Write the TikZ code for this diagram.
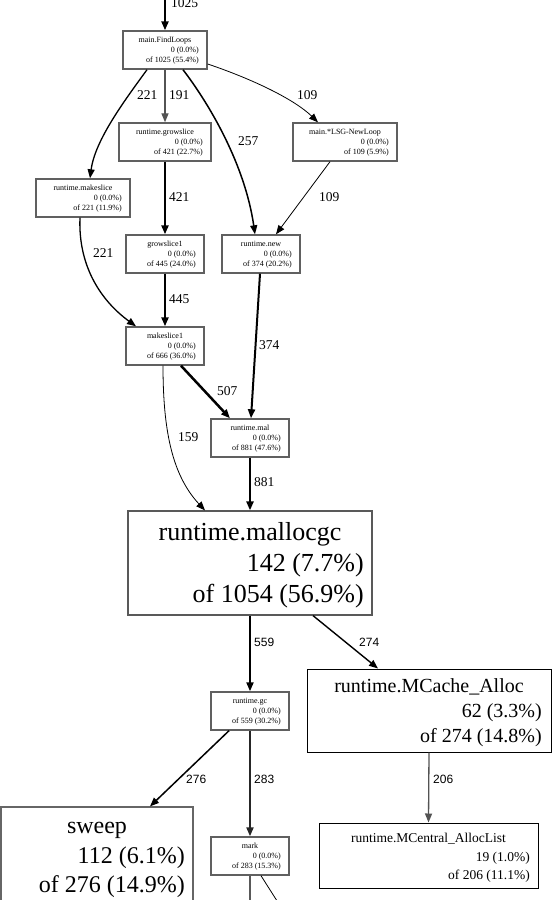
\documentclass[tikz,border=0pt]{standalone}
\usepackage{fontspec}
\setmainfont{Liberation Serif}
\newfontfamily\lsans{Liberation Sans}
\usetikzlibrary{arrows.meta,calc}
\tikzset{
  sbox/.style={draw=gray!75!black, line width=1.4pt, inner sep=0pt, minimum height=38pt},
  stxt/.style={inner sep=0pt, font=\fontsize{8}{10}\selectfont},
  bbox/.style={draw=black, line width=1pt, inner sep=0pt},
  e/.style={draw=black, -{Triangle[length=9pt,width=7pt]}},
  elab/.style={anchor=west, inner sep=0pt, font=\fontsize{13.5}{16}\selectfont},
  elabs/.style={anchor=west, inner sep=0pt, font=\lsans\fontsize{12}{14}\selectfont}
}
\newcommand\gvsmall[7]{%
  \node[sbox, minimum width=#4pt] (#1) at (#2,#3+19) {};
  \node[stxt, anchor=base] (#1t) at (#2,#3+11) {#5};
  \node[stxt, anchor=base east] (#1a) at (#2+#4/2-8,#3+21) {#6};
  \node[stxt, anchor=base east] (#1b) at (#2+#4/2-8,#3+31) {#7};
}
\begin{document}
\begin{tikzpicture}[x=1pt,y=-1pt]
\useasboundingbox (0,0) rectangle (557,900);
\clip (0,0) rectangle (557,900);
\fill[white] (0,0) rectangle (557,900);

% small boxes
\gvsmall{findloops}{165}{31}{84}{main.FindLoops}{0 (0.0\%)}{of 1025 (55.4\%)}
\gvsmall{growslice}{165}{123}{92}{runtime.growslice}{0 (0.0\%)}{of 421 (22.7\%)}
\gvsmall{lsg}{345}{123}{104}{main.*LSG-NewLoop}{0 (0.0\%)}{of 109 (5.9\%)}
\gvsmall{makeslice}{83}{179}{94}{runtime.makeslice}{0 (0.0\%)}{of 221 (11.9\%)}
\gvsmall{growslice1}{165}{235}{78}{growslice1}{0 (0.0\%)}{of 445 (24.0\%)}
\gvsmall{rnew}{261}{235}{78}{runtime.new}{0 (0.0\%)}{of 374 (20.2\%)}
\gvsmall{makeslice1}{165}{327}{78}{makeslice1}{0 (0.0\%)}{of 666 (36.0\%)}
\gvsmall{mal}{250}{419}{78}{runtime.mal}{0 (0.0\%)}{of 881 (47.6\%)}
\gvsmall{gc}{250}{692}{78}{runtime.gc}{0 (0.0\%)}{of 559 (30.2\%)}
\gvsmall{mark}{250}{837}{78}{mark}{0 (0.0\%)}{of 283 (15.3\%)}

% big boxes
\node[bbox, draw=gray!70!black, line width=1.2pt, minimum width=244pt, minimum height=104pt] (mallocgc) at (250,563) {};
\node[inner sep=0pt, anchor=base, font=\fontsize{26}{31}\selectfont] (mallocgct) at (250,540) {runtime.mallocgc};
\node[inner sep=0pt, anchor=base east, font=\fontsize{26}{31}\selectfont] (mallocgca) at (364,571) {142 (7.7\%)};
\node[inner sep=0pt, anchor=base east, font=\fontsize{26}{31}\selectfont] (mallocgcb) at (364,602) {of 1054 (56.9\%)};

\node[bbox, minimum width=244pt, minimum height=83pt] (mcache) at (429,710.5) {};
\node[inner sep=0pt, anchor=base, font=\fontsize{20}{24}\selectfont] (mcachet) at (429,692) {runtime.MCache\_Alloc};
\node[inner sep=0pt, anchor=base east, font=\fontsize{20}{24}\selectfont] (mcachea) at (542,717) {62 (3.3\%)};
\node[inner sep=0pt, anchor=base east, font=\fontsize{20}{24}\selectfont] (mcacheb) at (542,742) {of 274 (14.8\%)};

\node[bbox, minimum width=219pt, minimum height=65pt] (mcentral) at (428.5,855.5) {};
\node[inner sep=0pt, anchor=base, font=\fontsize{13.5}{16}\selectfont] (mcentralt) at (428.5,842) {runtime.MCentral\_AllocList};
\node[inner sep=0pt, anchor=base east, font=\fontsize{13.5}{16}\selectfont] (mcentrala) at (530,861) {19 (1.0\%)};
\node[inner sep=0pt, anchor=base east, font=\fontsize{13.5}{16}\selectfont] (mcentralb) at (530,879) {of 206 (11.1\%)};

\node[bbox, draw=gray!80!black, line width=1.2pt, minimum width=192pt, minimum height=133pt] (sweep) at (97,873.5) {};
\node[inner sep=0pt, anchor=base, font=\fontsize{24}{29}\selectfont] (sweept) at (97,833) {sweep};
\node[inner sep=0pt, anchor=base east, font=\fontsize{24}{29}\selectfont] (sweepa) at (185,863) {112 (6.1\%)};
\node[inner sep=0pt, anchor=base east, font=\fontsize{24}{29}\selectfont] (sweepb) at (185,892) {of 276 (14.9\%)};

% edges
\coordinate (topin) at (165,-5);
\draw[e, line width=2.2pt] (topin) -- (findloops.north);
\draw[e, line width=1.3pt] ($(findloops.south)+(-18,0)$) .. controls (125,100) and (95,140) .. ($(makeslice.north)+(7,0)$);
\draw[e, draw=gray!65!black, line width=1.3pt] (findloops.south) -- (growslice.north);
\draw[e, line width=1.5pt] ($(findloops.south)+(18,0)$) .. controls (210,105) and (245,165) .. ($(rnew.north)+(-6,0)$);
\draw[e, line width=0.8pt] ($(findloops.east)+(0,14)$) .. controls (255,80) and (295,100) .. ($(lsg.north)+(-27,0)$);
\draw[e, line width=2.5pt] (growslice.south) -- (growslice1.north);
\draw[e, line width=0.8pt] ($(lsg.south)+(-15,0)$) -- ($(rnew.north)+(15,0)$);
\draw[e, line width=1.3pt] ($(makeslice.south)+(-3,0)$) .. controls (78,265) and (100,300) .. ($(makeslice1.north)+(-29,0)$);
\draw[e, line width=2.5pt] (growslice1.south) -- (makeslice1.north);
\draw[e, line width=2pt] ($(rnew.south)+(-1,0)$) -- ($(mal.north)+(1,0)$);
\draw[e, line width=2.5pt] ($(makeslice1.south)+(16,0)$) -- ($(mal.north)+(-20,0)$);
\draw[e, line width=0.8pt] ($(makeslice1.south)+(-2,0)$) .. controls (163,430) and (172,475) .. ($(mallocgc.north)+(-45,0)$);
\draw[e, line width=2.5pt] (mal.south) -- (mallocgc.north);
\draw[e, line width=2pt] (mallocgc.south) -- (gc.north);
\draw[e, line width=1.4pt] ($(mallocgc.south)+(63,0)$) -- ($(mcache.north)+(-51,0)$);
\draw[e, line width=1.5pt] ($(gc.south)+(-21,0)$) -- ($(sweep.north)+(53,0)$);
\draw[e, draw=black!85, line width=2pt] (gc.south) -- (mark.north);
\draw[e, draw=gray!65!black, line width=1.3pt] (mcache.south) -- (mcentral.north);
\coordinate (markout1) at (250,915);
\coordinate (markout2) at (286,915);
\draw[draw=gray!70!black, line width=1.5pt] (mark.south) -- (markout1);
\draw[line width=0.8pt] ($(mark.south)+(11,0)$) -- (markout2);

% edge labels
\node[elab] (l1025) at (171,3) {1025};
\node[elab] (l221a) at (137,95) {221};
\node[elab] (l191) at (169,95) {191};
\node[elab] (l109a) at (297,95) {109};
\node[elab] (l257) at (238,141) {257};
\node[elab] (l421) at (169,197) {421};
\node[elab] (l109b) at (319,197) {109};
\node[elab] (l221b) at (93,253) {221};
\node[elab] (l445) at (169,299) {445};
\node[elab] (l374) at (259,345) {374};
\node[elab] (l507) at (217,391) {507};
\node[elab] (l159) at (178,437) {159};
\node[elab] (l881) at (254,482) {881};
\node[elabs] (l559) at (254,642) {559};
\node[elabs] (l274) at (359,642) {274};
\node[elabs] (l276) at (186,779) {276};
\node[elabs] (l283) at (254,779) {283};
\node[elabs] (l206) at (433,779) {206};
\end{tikzpicture}
\end{document}
